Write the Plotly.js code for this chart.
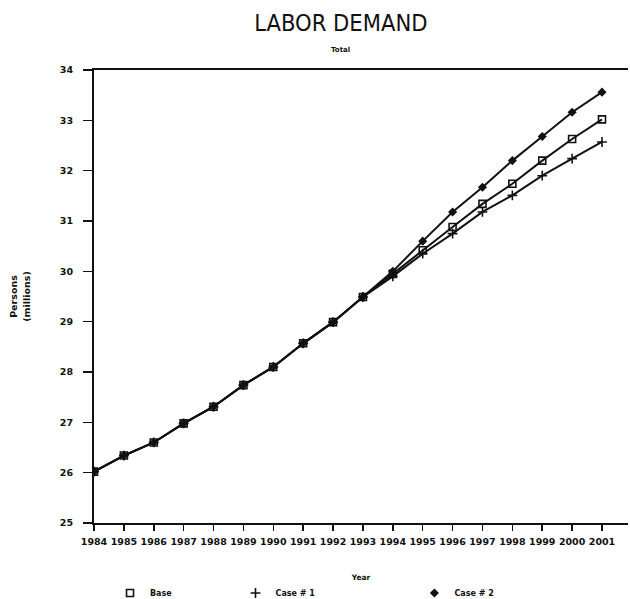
<!DOCTYPE html>
<html>
<head>
<meta charset="utf-8">
<script src="https://cdn.plot.ly/plotly-3.0.1.min.js"></script>
<style>html,body{margin:0;padding:0;background:#fff;}#chart{width:630px;height:599px;}</style>
</head>
<body>
<div id="chart"></div>
<script>
const years = [1984,1985,1986,1987,1988,1989,1990,1991,1992,1993,1994,1995,1996,1997,1998,1999,2000,2001];
const yearLabels = years.map(String);
const baseValues  = [26.02,26.34,26.60,26.98,27.31,27.74,28.10,28.57,28.99,29.49,29.95,30.42,30.88,31.34,31.74,32.20,32.63,33.02];
const case1Values = [26.02,26.34,26.60,26.98,27.31,27.74,28.10,28.57,28.99,29.49,29.90,30.35,30.75,31.18,31.51,31.90,32.24,32.57];
const case2Values = [26.02,26.34,26.60,26.98,27.31,27.74,28.10,28.57,28.99,29.49,30.00,30.60,31.18,31.67,32.20,32.68,33.16,33.56];
const yTicks = [25,26,27,28,29,30,31,32,33,34];
const seriesNames = ['Base','Case # 1','Case # 2'];

const lineStyle = {color:'#111', width:2};
const markers = [
  {symbol:'square-open', size:7, color:'#111', line:{width:1.6,color:'#111'}},
  {symbol:'cross-thin-open', size:7, color:'#111', line:{width:1.6,color:'#111'}},
  {symbol:'diamond', size:7, color:'#111'}
];
const seriesValues = [baseValues, case1Values, case2Values];
const legendIds = ['legend','legend2','legend3'];

const traces = [];
seriesValues.forEach((vals, i) => {
  traces.push({x:years, y:vals, name:seriesNames[i], mode:'lines+markers', line:lineStyle,
    marker:markers[i], showlegend:false});
});
// legend-only entries (markers without line, as in the original key)
seriesNames.forEach((nm, i) => {
  traces.push({x:[null], y:[null], name:nm, mode:'markers', marker:markers[i],
    showlegend:true, legend:legendIds[i]});
});

const tickFont = {family:'DejaVu Sans', size:9.5, weight:700, color:'#111'};
const legFont = {family:'DejaVu Sans', size:8, weight:700, color:'#111'};
const legCommon = {orientation:'h', xref:'paper', yref:'paper', yanchor:'middle', xanchor:'left',
  font:legFont, bgcolor:'rgba(0,0,0,0)', itemwidth:30};
const legY = -0.1545;

const layout = {
  width:630, height:599,
  margin:{l:94, r:2, t:70, b:76, autoexpand:false},
  paper_bgcolor:'#fff', plot_bgcolor:'#fff',
  title:{text:'LABOR DEMAND', font:{family:'Liberation Sans Narrow, DejaVu Sans Condensed, sans-serif', size:23.5, color:'#111'},
         xref:'container', x:0.541, xanchor:'center', yref:'container', y:0.962, yanchor:'middle'},
  xaxis:{range:[1984, 2001.87], tickvals:years, ticktext:yearLabels, tickfont:tickFont,
         showgrid:false, zeroline:false, showline:true, linecolor:'#111', linewidth:2, mirror:true,
         ticks:'outside', ticklen:6, tickwidth:1.5, tickcolor:'#111', ticklabelstandoff:3,
         title:{text:'Year', font:{family:'DejaVu Sans', size:7.5, weight:700, color:'#111'}, standoff:28}},
  yaxis:{range:[25,34], tickvals:yTicks, tickfont:tickFont,
         showgrid:false, zeroline:false, showline:true, linecolor:'#111', linewidth:2,
         ticks:'outside', ticklen:9, tickwidth:1.5, tickcolor:'#111', ticklabelstandoff:8,
         title:{text:'Persons<br>(millions)', font:{family:'DejaVu Sans', size:9.5, weight:700, color:'#111'}, standoff:28}},
  showlegend:true,
  legend: Object.assign({x:0.03, y:legY}, legCommon),
  legend2: Object.assign({x:0.265, y:legY}, legCommon),
  legend3: Object.assign({x:0.6, y:legY}, legCommon),
  annotations:[
    {text:'Total', xref:'paper', yref:'paper', x:0.4625, y:1.044, showarrow:false,
     font:{family:'DejaVu Sans', size:7, weight:700, color:'#111'}, xanchor:'center', yanchor:'middle'}
  ]
};

Plotly.newPlot('chart', traces, layout, {displayModeBar:false, staticPlot:true});
</script>
</body>
</html>
